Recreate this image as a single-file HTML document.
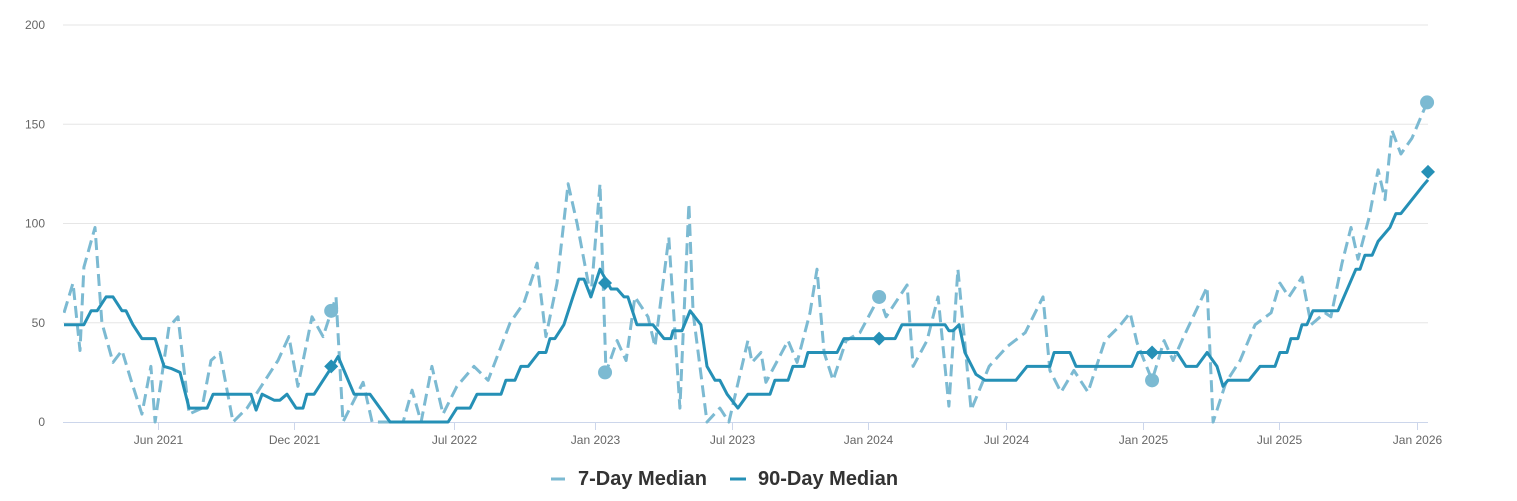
<!DOCTYPE html>
<html><head><meta charset="utf-8"><style>
html,body{margin:0;padding:0;background:#fff;}
svg{display:block;font-family:"Liberation Sans",sans-serif;}
</style></head><body>
<svg id="chart" width="1517" height="501" viewBox="0 0 1517 501"></svg>
<script>
// time values are months since Jan 2021
const yTicks = [0, 50, 100, 150, 200];
const xTickMonths = [5.48, 11.36, 18.28, 24.39, 30.31, 36.2, 42.17, 48.1, 53.99, 59.95];
const xTickLabels = ["Jun 2021","Dec 2021","Jul 2022","Jan 2023","Jul 2023","Jan 2024","Jul 2024","Jan 2025","Jul 2025","Jan 2026"];
const sevenDayMonths = [1.41,1.80,2.10,2.27,2.75,3.05,3.53,3.92,4.31,4.78,5.17,5.35,5.95,6.34,6.82,7.38,7.77,8.16,8.72,9.33,10.11,10.67,11.14,11.53,12.14,12.62,13.18,13.48,14.35,14.74,16.08,16.47,16.86,17.33,17.81,18.41,19.15,19.76,20.71,21.31,21.88,22.26,22.74,23.22,23.61,24.21,24.60,24.86,25.34,25.73,26.11,26.68,26.98,27.58,28.06,28.45,28.63,29.23,29.79,30.18,31.00,31.18,31.57,31.78,32.74,33.13,33.69,33.99,34.30,34.69,35.25,35.85,36.68,36.98,37.89,38.15,38.75,39.23,39.70,40.09,40.66,41.44,42.22,43.00,43.77,44.07,44.55,45.11,45.72,46.45,47.06,47.54,47.84,48.49,49.01,49.40,49.78,50.35,50.87,51.13,51.69,52.30,52.95,53.64,54.02,54.41,54.98,55.37,55.97,56.23,56.71,57.10,57.40,57.88,58.27,58.57,58.87,59.26,59.74,60.39];
const sevenDayValues = [55,70,36,78,98,50,30,36,21,4,28,0,48,53,4,7,31,35,0,7,21,31,43,18,53,43,63,0,20,0,0,16,0,28,4,18,28,21,50,60,80,43,70,120,100,63,120,25,41,31,63,53,38,93,7,110,55,0,7,0,41,30,35,20,41,30,55,77,35,21,41,45,63,53,69,28,41,63,8,77,6,28,38,45,63,26,15,26,15,41,48,55,40,21,41,31,41,55,68,0,20,31,49,55,70,63,73,49,55,53,80,98,82,103,127,112,147,135,143,161];
const ninetyDayMonths = [1.41,2.27,2.58,2.84,3.23,3.53,3.92,4.09,4.39,4.78,5.35,5.74,6.04,6.43,6.82,7.60,7.86,9.50,9.72,9.98,10.50,10.75,11.06,11.45,11.75,11.92,12.23,12.62,13.01,13.27,13.96,14.65,15.52,18.03,18.41,18.98,19.28,20.32,20.53,20.92,21.18,21.49,21.96,22.26,22.44,22.65,23.04,23.43,23.69,23.91,24.21,24.60,25.08,25.34,25.64,25.81,26.20,26.89,27.37,27.67,27.76,28.15,28.50,28.97,29.23,29.58,29.79,30.10,30.57,31.00,31.96,32.17,32.74,32.95,33.43,33.60,34.86,35.16,37.37,37.67,39.53,39.70,39.88,40.14,40.39,40.87,41.26,42.60,43.08,44.07,44.25,44.94,45.20,47.62,47.88,49.57,49.96,50.43,50.87,51.30,51.56,51.77,52.68,53.16,53.81,54.02,54.33,54.50,54.80,54.98,55.19,55.45,56.53,57.31,57.49,57.70,58.01,58.27,58.78,59.04,59.26,60.21,60.43];
const ninetyDayValues = [49,49,56,56,63,63,56,56,49,42,42,28,27,25,7,7,14,14,6,14,11,11,14,7,7,14,14,21,28,33,14,14,0,0,7,7,14,14,21,21,28,28,35,35,42,42,49,63,72,72,63,77,67,67,63,63,49,49,42,42,46,46,56,49,28,21,21,14,7,14,14,21,21,28,28,35,35,42,42,49,49,46,46,49,35,24,21,21,28,28,35,35,28,28,35,35,28,28,35,28,18,21,21,28,28,35,35,42,42,49,49,56,56,77,77,84,84,91,98,105,105,119,122];
const sevenMarkerMonths = [12.97,24.82,36.68,48.49,60.39];
const sevenMarkerValues = [56,25,63,21,161];
const ninetyMarkerMonths = [12.97,24.82,36.68,48.49,60.43];
const ninetyMarkerValues = [28,70,42,35,126];

const NS="http://www.w3.org/2000/svg";
const svg=document.getElementById('chart');
const L=63,R=1428,T=25,B=422;
const xS=m=>31.45+23.11*m;
const yS=v=>B-(v/200)*(B-T);
function el(tag,attrs,parent){const e=document.createElementNS(NS,tag);for(const k in attrs)e.setAttribute(k,attrs[k]);(parent||svg).appendChild(e);return e;}

const grid=el('g',{});


yTicks.forEach(v=>{
  if(v>0){const g=el('line',{x1:L,x2:R,y1:yS(v),y2:yS(v),stroke:'#e6e6e6','stroke-width':1},grid);
  
  }
  const t=el('text',{x:45,y:yS(v)+4,'text-anchor':'end','font-size':12,fill:'#666'},grid);
  t.textContent=v;
  
  
});
const ax=el('line',{x1:L,x2:R,y1:B+0.5,y2:B+0.5,stroke:'#ccd6eb','stroke-width':1},grid);


xTickMonths.forEach((m,i)=>{
  const x=Math.round(xS(m))+0.5;
  const tk=el('line',{x1:x,x2:x,y1:B,y2:B+8,stroke:'#ccd6eb'},grid);
  
  
  const t=el('text',{x:x,y:B+22,'text-anchor':'middle','font-size':12,fill:'#666'},grid);
  t.textContent=xTickLabels[i];
  
  
});

function pathD(ms,vs){return ms.map((m,i)=>(i?'L':'M')+xS(m).toFixed(1)+' '+yS(vs[i]).toFixed(1)).join(' ');}
const clip=el('clipPath',{id:'pc'});el('rect',{x:L,y:0,width:R-L+10,height:B+2},clip);
const s7=el('path',{d:pathD(sevenDayMonths,sevenDayValues),fill:'none',stroke:'#7cbad2','stroke-width':3,'stroke-dasharray':'12,6','stroke-linejoin':'round','clip-path':'url(#pc)'});


const s90=el('path',{d:pathD(ninetyDayMonths,ninetyDayValues),fill:'none',stroke:'#2590b6','stroke-width':3,'stroke-linejoin':'round','clip-path':'url(#pc)'});



sevenMarkerMonths.forEach((m,i)=>{
  const c=el('circle',{cx:xS(m),cy:yS(sevenMarkerValues[i]),r:7,fill:'#7cbad2'});
  
  
});
ninetyMarkerMonths.forEach((m,i)=>{
  const x=xS(m),y=yS(ninetyMarkerValues[i]);
  const d=el('path',{d:`M${x} ${y-7} L${x+7} ${y} L${x} ${y+7} L${x-7} ${y} Z`,fill:'#2590b6'});
  
  
});

const lg=el('g',{});


const e1=el('g',{},lg);


el('line',{x1:551,x2:565,y1:479,y2:479,stroke:'#7cbad2','stroke-width':3},e1);
const t1=el('text',{x:578,y:485,'font-size':20,'font-weight':'bold',fill:'#333'},e1);
t1.textContent='7-Day Median';
const e2=el('g',{},lg);


el('line',{x1:730,x2:746,y1:479,y2:479,stroke:'#2590b6','stroke-width':3},e2);
const t2=el('text',{x:758,y:485,'font-size':20,'font-weight':'bold',fill:'#333'},e2);
t2.textContent='90-Day Median';
</script>
</body></html>
